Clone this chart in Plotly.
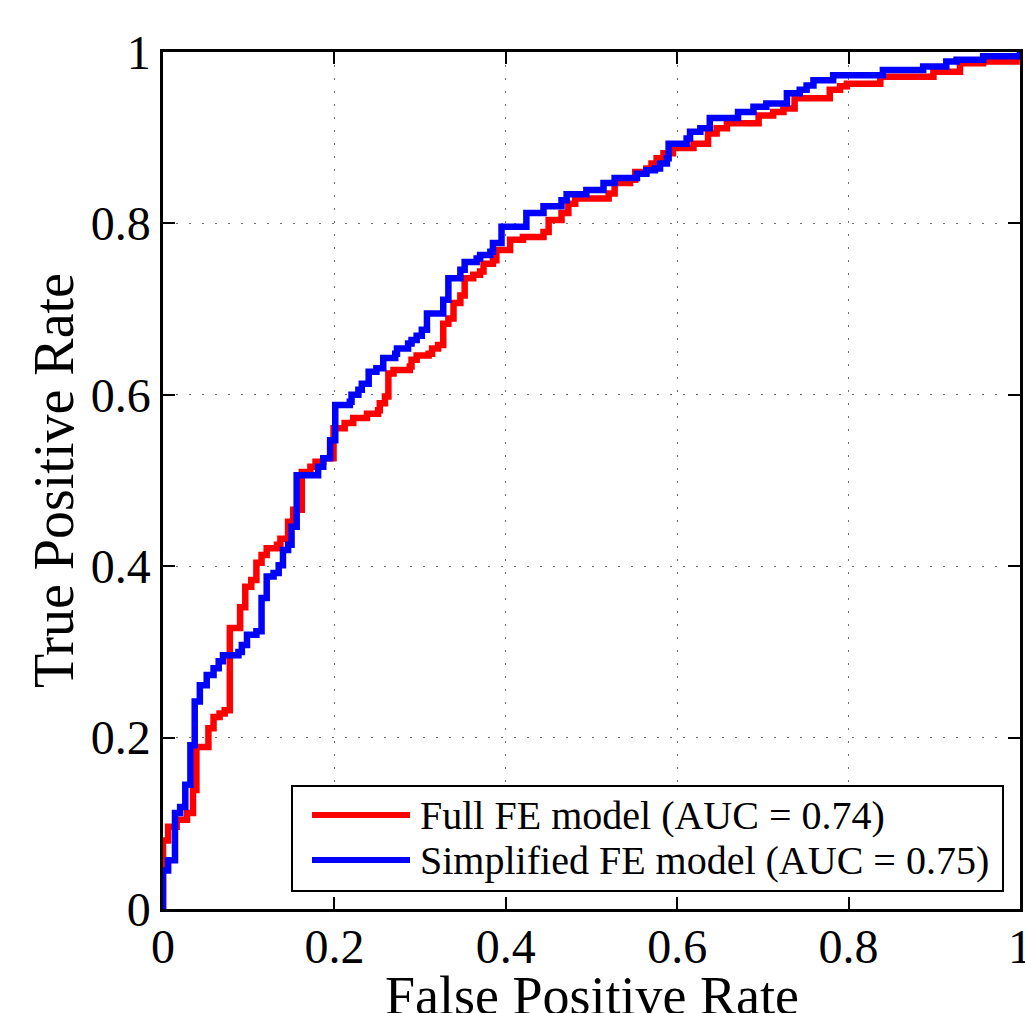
import plotly.graph_objects as go

# ---- data ----
series_names = ["Full FE model (AUC = 0.74)", "Simplified FE model (AUC = 0.75)"]
x_title = "False Positive Rate"
y_title = "True Positive Rate"

fpr_full = [0, 0, 0.006, 0.016, 0.028, 0.035, 0.039, 0.053, 0.059, 0.066, 0.072, 0.078,
            0.090, 0.096, 0.103, 0.109, 0.115, 0.121, 0.133, 0.137, 0.146, 0.152, 0.162,
            0.172, 0.178, 0.187, 0.199, 0.212, 0.222, 0.238, 0.251, 0.253, 0.259, 0.263,
            0.269, 0.288, 0.290, 0.296, 0.310, 0.314, 0.321, 0.327, 0.333, 0.339, 0.347,
            0.352, 0.362, 0.370, 0.374, 0.385, 0.389, 0.405, 0.420, 0.444, 0.450, 0.465,
            0.473, 0.481, 0.520, 0.527, 0.545, 0.551, 0.564, 0.570, 0.576, 0.584, 0.595,
            0.619, 0.636, 0.646, 0.658, 0.695, 0.712, 0.724, 0.737, 0.778, 0.790, 0.798,
            0.837, 0.899, 0.930, 0.957, 0.996, 1.0]
tpr_full = [0, 0.08, 0.096, 0.104, 0.112, 0.139, 0.189, 0.211, 0.224, 0.228, 0.232, 0.328,
            0.352, 0.376, 0.384, 0.404, 0.413, 0.421, 0.425, 0.432, 0.452, 0.466, 0.510,
            0.516, 0.522, 0.526, 0.561, 0.567, 0.573, 0.578, 0.582, 0.590, 0.598, 0.625,
            0.629, 0.633, 0.641, 0.646, 0.648, 0.654, 0.658, 0.683, 0.689, 0.707, 0.716,
            0.736, 0.740, 0.744, 0.753, 0.757, 0.769, 0.781, 0.784, 0.790, 0.804, 0.812,
            0.823, 0.829, 0.835, 0.847, 0.851, 0.860, 0.864, 0.870, 0.876, 0.882, 0.888,
            0.893, 0.905, 0.911, 0.917, 0.926, 0.930, 0.934, 0.946, 0.956, 0.960, 0.963,
            0.971, 0.977, 0.987, 0.989, 0.995, 1.0]

fpr_simple = [0, 0, 0.006, 0.014, 0.020, 0.026, 0.032, 0.037, 0.043, 0.051, 0.059, 0.065,
              0.070, 0.088, 0.092, 0.098, 0.109, 0.115, 0.121, 0.129, 0.135, 0.140, 0.146,
              0.150, 0.156, 0.181, 0.187, 0.195, 0.201, 0.218, 0.220, 0.228, 0.232, 0.240,
              0.249, 0.257, 0.271, 0.273, 0.286, 0.290, 0.296, 0.302, 0.308, 0.327, 0.333,
              0.347, 0.352, 0.366, 0.370, 0.382, 0.385, 0.395, 0.424, 0.444, 0.465, 0.471,
              0.494, 0.514, 0.527, 0.553, 0.564, 0.574, 0.580, 0.588, 0.590, 0.611, 0.615,
              0.627, 0.638, 0.671, 0.689, 0.704, 0.728, 0.743, 0.751, 0.759, 0.782, 0.840,
              0.887, 0.914, 0.926, 0.957, 1.0]
tpr_simple = [0, 0.045, 0.057, 0.112, 0.119, 0.145, 0.191, 0.242, 0.261, 0.273, 0.281, 0.289,
              0.296, 0.300, 0.308, 0.320, 0.324, 0.363, 0.388, 0.392, 0.401, 0.419, 0.425,
              0.446, 0.506, 0.516, 0.526, 0.547, 0.588, 0.592, 0.600, 0.606, 0.613, 0.627,
              0.631, 0.643, 0.648, 0.654, 0.660, 0.664, 0.669, 0.676, 0.695, 0.711, 0.736,
              0.746, 0.755, 0.759, 0.763, 0.767, 0.777, 0.796, 0.812, 0.820, 0.827, 0.834,
              0.839, 0.847, 0.853, 0.858, 0.862, 0.864, 0.870, 0.876, 0.893, 0.899, 0.907,
              0.911, 0.923, 0.930, 0.936, 0.940, 0.952, 0.956, 0.961, 0.967, 0.973, 0.979,
              0.983, 0.989, 0.991, 0.995, 1.0]

tick_vals = [0, 0.2, 0.4, 0.6, 0.8, 1]
tick_text = ["0", "0.2", "0.4", "0.6", "0.8", "1"]

# ---- figure ----
FONT = "Liberation Serif"
colors = ["#ff0000", "#0000ff"]

fig = go.Figure()
fig.add_trace(go.Scatter(x=fpr_full, y=tpr_full, mode="lines", name=series_names[0],
                         line=dict(color=colors[0], width=6.5, shape="hv"), showlegend=False))
fig.add_trace(go.Scatter(x=fpr_simple, y=tpr_simple, mode="lines", name=series_names[1],
                         line=dict(color=colors[1], width=6.5, shape="hv"), showlegend=False))

axis_common = dict(
    range=[0, 1], tickvals=tick_vals, ticktext=tick_text,
    showline=True, linecolor="black", linewidth=2.5, mirror="ticks",
    ticks="inside", ticklen=12, tickwidth=1.5, tickcolor="black",
    showgrid=True, gridcolor="#707070", gridwidth=1, griddash="2px,11px",
    zeroline=False, tickfont=dict(family=FONT, size=48, color="black"),
    ticklabeloverflow="allow",
)

fig.update_xaxes(**axis_common, ticklabelstandoff=-6)
fig.update_yaxes(**axis_common, ticklabelstandoff=0,
                 title=dict(text=y_title, font=dict(family=FONT, size=56, color="black"),
                            standoff=0))

# ---- legend box and x title (paper coordinates) ----
def px_x(p):
    return (p - 163) / 857.0

def px_y(p):
    return (909 - p) / 857.0

shapes = [
    dict(type="rect", xref="paper", yref="paper", x0=px_x(292), x1=px_x(1003),
         y0=px_y(891), y1=px_y(786), line=dict(color="black", width=2), fillcolor="white",
         layer="above"),
]
annotations = [
    dict(xref="paper", yref="paper", x=0.5, y=px_y(964), xanchor="center", yanchor="top",
         text=x_title, showarrow=False, font=dict(family=FONT, size=54, color="black")),
]
for i, (name, yy) in enumerate(zip(series_names, [815, 860])):
    shapes.append(dict(type="line", xref="paper", yref="paper", x0=px_x(312), x1=px_x(410),
                       y0=px_y(yy), y1=px_y(yy), line=dict(color=colors[i], width=6),
                       layer="above"))
    annotations.append(dict(xref="paper", yref="paper", x=px_x(418), y=px_y(yy),
                            xanchor="left", yanchor="middle", text=name, showarrow=False,
                            font=dict(family=FONT, size=40, color="black")))

fig.update_layout(
    width=1025, height=1013,
    margin=dict(l=163, r=5, t=52, b=104, autoexpand=False),
    paper_bgcolor="white", plot_bgcolor="white",
    shapes=shapes, annotations=annotations,
    showlegend=False,
)

fig.write_html("out.html", config={"displayModeBar": False},
               post_script="document.body.style.margin='0px';document.body.style.overflow='hidden';")
